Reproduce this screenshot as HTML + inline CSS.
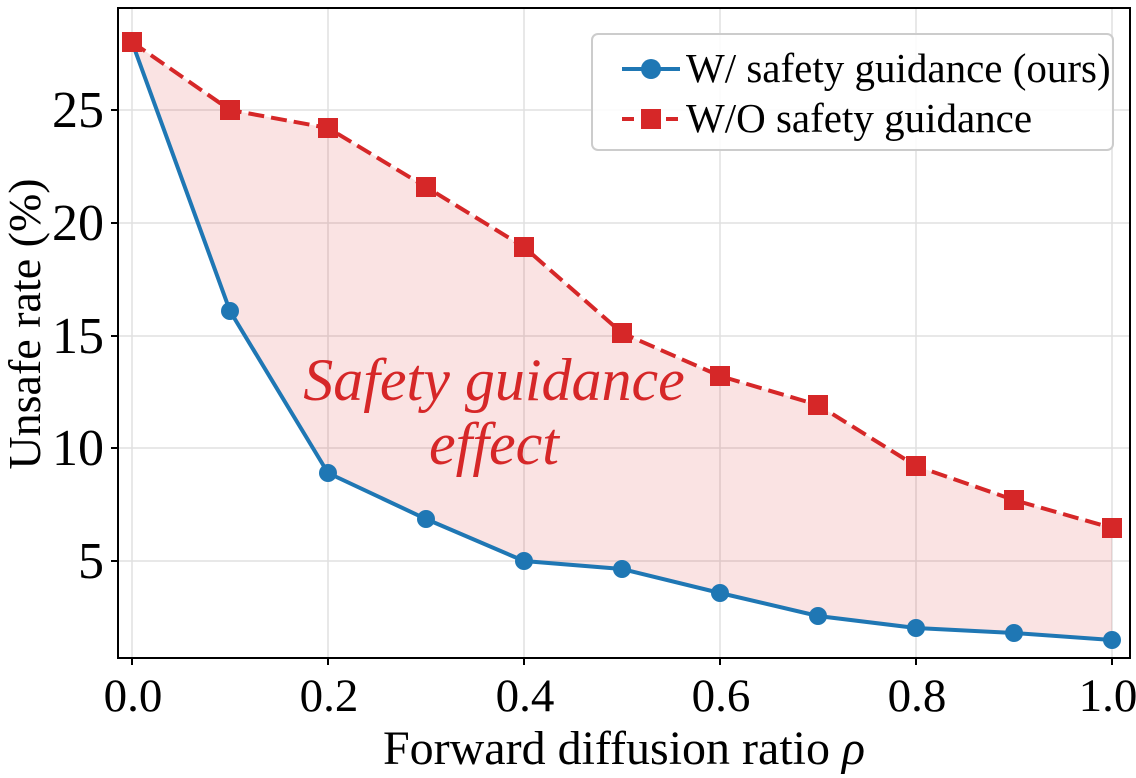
<!DOCTYPE html>
<html><head><style>body{margin:0;background:#fff}svg{display:block}text{font-family:"Liberation Serif",serif}</style></head><body>
<svg width="1136" height="778" xmlns="http://www.w3.org/2000/svg">
<rect width="1136" height="778" fill="#fff"/>
<g stroke="#e0e0e0" stroke-width="1.5">
<line x1="132" y1="8" x2="132" y2="658"/><line x1="328" y1="8" x2="328" y2="658"/><line x1="524" y1="8" x2="524" y2="658"/><line x1="720" y1="8" x2="720" y2="658"/><line x1="916" y1="8" x2="916" y2="658"/><line x1="1112" y1="8" x2="1112" y2="658"/>
<line x1="118" y1="110" x2="1130" y2="110"/><line x1="118" y1="223" x2="1130" y2="223"/><line x1="118" y1="336" x2="1130" y2="336"/><line x1="118" y1="448" x2="1130" y2="448"/><line x1="118" y1="561" x2="1130" y2="561"/>
</g>
<polygon fill="#d62728" fill-opacity="0.13" points="132,42 230,110 328,128 426,187 524,247 622,333 720,376 818,405 916,466 1014,500 1112,528 1112,640 1014,633 916,628 818,616 720,593 622,569 524,561 426,519 328,473 230,311 132,42"/>
<polyline fill="none" stroke="#d62728" stroke-width="4" stroke-dasharray="16,7" points="132,42 230,110 328,128 426,187 524,247 622,333 720,376 818,405 916,466 1014,500 1112,528"/>
<polyline fill="none" stroke="#1f77b4" stroke-width="4" points="132,42 230,311 328,473 426,519 524,561 622,569 720,593 818,616 916,628 1014,633 1112,640"/>
<g fill="#1f77b4">
<circle cx="132" cy="42" r="9"/><circle cx="230" cy="311" r="9"/><circle cx="328" cy="473" r="9"/><circle cx="426" cy="519" r="9"/><circle cx="524" cy="561" r="9"/><circle cx="622" cy="569" r="9"/><circle cx="720" cy="593" r="9"/><circle cx="818" cy="616" r="9"/><circle cx="916" cy="628" r="9"/><circle cx="1014" cy="633" r="9"/><circle cx="1112" cy="640" r="9"/>
</g>
<g fill="#d62728">
<rect x="122" y="32" width="20" height="20"/><rect x="220" y="100" width="20" height="20"/><rect x="318" y="118" width="20" height="20"/><rect x="416" y="177" width="20" height="20"/><rect x="514" y="237" width="20" height="20"/><rect x="612" y="323" width="20" height="20"/><rect x="710" y="366" width="20" height="20"/><rect x="808" y="395" width="20" height="20"/><rect x="906" y="456" width="20" height="20"/><rect x="1004" y="490" width="20" height="20"/><rect x="1102" y="518" width="20" height="20"/>
</g>
<rect x="118" y="8" width="1012" height="650" fill="none" stroke="#000" stroke-width="2"/>
<g stroke="#000" stroke-width="2">
<line x1="132" y1="658" x2="132" y2="665"/><line x1="328" y1="658" x2="328" y2="665"/><line x1="524" y1="658" x2="524" y2="665"/><line x1="720" y1="658" x2="720" y2="665"/><line x1="916" y1="658" x2="916" y2="665"/><line x1="1112" y1="658" x2="1112" y2="665"/>
<line x1="111" y1="110" x2="118" y2="110"/><line x1="111" y1="223" x2="118" y2="223"/><line x1="111" y1="336" x2="118" y2="336"/><line x1="111" y1="448" x2="118" y2="448"/><line x1="111" y1="561" x2="118" y2="561"/>
</g>
<g font-size="47" text-anchor="middle">
<text x="133" y="711">0.0</text><text x="329" y="711">0.2</text><text x="525" y="711">0.4</text><text x="721" y="711">0.6</text><text x="917" y="711">0.8</text><text x="1108" y="711">1.0</text>
</g>
<g font-size="52" text-anchor="end">
<text x="104" y="127">25</text><text x="104" y="240">20</text><text x="104" y="353">15</text><text x="104" y="465">10</text><text x="104" y="578">5</text>
</g>
<text x="624" y="764" font-size="48" text-anchor="middle">Forward diffusion ratio <tspan font-style="italic">ρ</tspan></text>
<text transform="translate(40,324) rotate(-90)" font-size="46" text-anchor="middle">Unsafe rate (%)</text>
<g fill="#d62728" font-style="italic" font-size="60" text-anchor="middle">
<text x="494" y="400">Safety guidance</text><text x="494" y="464">effect</text>
</g>
<rect x="592" y="34" width="521" height="116" rx="6" fill="#fff" fill-opacity="0.85" stroke="#ccc" stroke-width="2"/>
<line x1="622" y1="69" x2="680" y2="69" stroke="#1f77b4" stroke-width="4"/><circle cx="651" cy="69" r="10" fill="#1f77b4"/>
<line x1="622" y1="119" x2="680" y2="119" stroke="#d62728" stroke-width="4" stroke-dasharray="12,10"/><rect x="641" y="109" width="20" height="20" fill="#d62728"/>
<text x="686" y="82" font-size="41">W/ safety guidance (ours)</text>
<text x="686" y="132" font-size="41">W/O safety guidance</text>
</svg>
</body></html>
